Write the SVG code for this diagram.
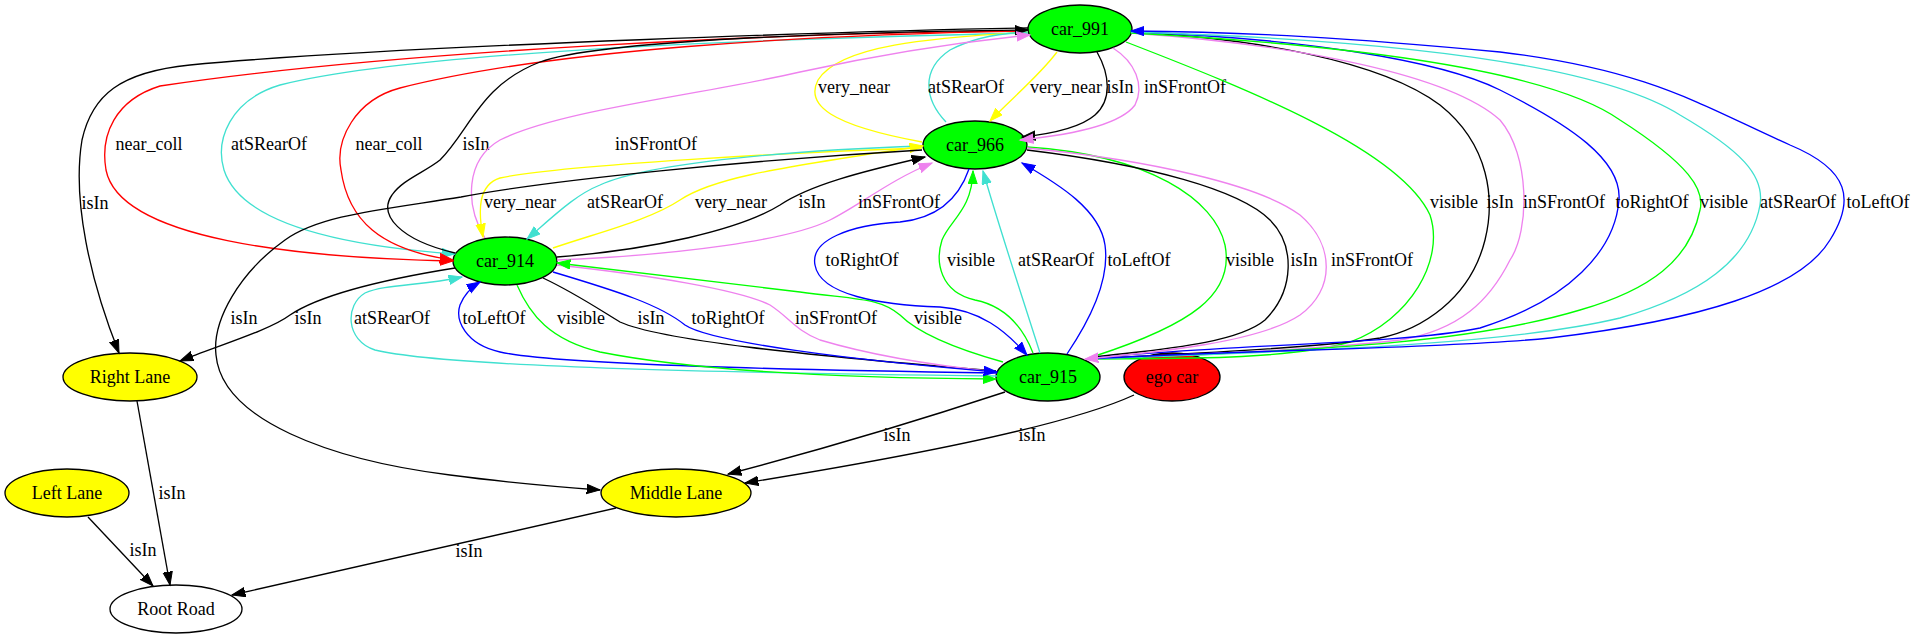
<svg xmlns="http://www.w3.org/2000/svg" width="1918" height="639" viewBox="0 0 1918 639">
<style>
text{font-family:"Liberation Serif","Times New Roman",serif;font-size:18px;fill:#000;text-anchor:middle}
.n{stroke:#000;stroke-width:1.33}
.e{fill:none;stroke-width:1.33}
.k{stroke:#000}.r{stroke:#ff0000}.t{stroke:#40e0d0}.y{stroke:#ffff00}.v{stroke:#ee82ee}.g{stroke:#00ff00}.b{stroke:#0000ff}
</style>
<defs>
<marker id="ak" markerUnits="userSpaceOnUse" markerWidth="16" markerHeight="12" refX="13.3" refY="5" orient="auto"><path d="M0,0.3L13.3,5L0,9.7z" fill="#000" stroke="#000"/></marker>
<marker id="ar" markerUnits="userSpaceOnUse" markerWidth="16" markerHeight="12" refX="13.3" refY="5" orient="auto"><path d="M0,0.3L13.3,5L0,9.7z" fill="#ff0000" stroke="#ff0000"/></marker>
<marker id="at" markerUnits="userSpaceOnUse" markerWidth="16" markerHeight="12" refX="13.3" refY="5" orient="auto"><path d="M0,0.3L13.3,5L0,9.7z" fill="#40e0d0" stroke="#40e0d0"/></marker>
<marker id="ay" markerUnits="userSpaceOnUse" markerWidth="16" markerHeight="12" refX="13.3" refY="5" orient="auto"><path d="M0,0.3L13.3,5L0,9.7z" fill="#ffff00" stroke="#ffff00"/></marker>
<marker id="av" markerUnits="userSpaceOnUse" markerWidth="16" markerHeight="12" refX="13.3" refY="5" orient="auto"><path d="M0,0.3L13.3,5L0,9.7z" fill="#ee82ee" stroke="#ee82ee"/></marker>
<marker id="ag" markerUnits="userSpaceOnUse" markerWidth="16" markerHeight="12" refX="13.3" refY="5" orient="auto"><path d="M0,0.3L13.3,5L0,9.7z" fill="#00ff00" stroke="#00ff00"/></marker>
<marker id="ab" markerUnits="userSpaceOnUse" markerWidth="16" markerHeight="12" refX="13.3" refY="5" orient="auto"><path d="M0,0.3L13.3,5L0,9.7z" fill="#0000ff" stroke="#0000ff"/></marker>
</defs>
<rect width="1918" height="639" fill="#fff"/>
<g id="nodes">
<g id="car_991"><ellipse class="n" cx="1080" cy="29" rx="52" ry="24" fill="#00ff00"/><text x="1080" y="35">car_991</text></g>
<g id="car_966"><ellipse class="n" cx="975" cy="145" rx="52" ry="24" fill="#00ff00"/><text x="975" y="151">car_966</text></g>
<g id="car_914"><ellipse class="n" cx="505" cy="261" rx="52" ry="24" fill="#00ff00"/><text x="505" y="267">car_914</text></g>
<g id="car_915"><ellipse class="n" cx="1048" cy="377" rx="52" ry="24" fill="#00ff00"/><text x="1048" y="383">car_915</text></g>
<g id="ego_car"><ellipse class="n" cx="1172" cy="377" rx="48" ry="24" fill="#ff0000"/><text x="1172" y="383">ego car</text></g>
<g id="right_lane"><ellipse class="n" cx="130" cy="377" rx="67" ry="24" fill="#ffff00"/><text x="130" y="383">Right Lane</text></g>
<g id="left_lane"><ellipse class="n" cx="67" cy="493" rx="62" ry="24" fill="#ffff00"/><text x="67" y="499">Left Lane</text></g>
<g id="middle_lane"><ellipse class="n" cx="676" cy="493" rx="75" ry="24" fill="#ffff00"/><text x="676" y="499">Middle Lane</text></g>
<g id="root_road"><ellipse class="n" cx="176" cy="609" rx="66" ry="24" fill="#fff"/><text x="176" y="615">Root Road</text></g>
</g>
<g id="connectors">
<path class="e k" marker-end="url(#ak)" d="M1028,28C900,30 400,45 190,65C120,72 92,95 82,140C72,200 90,280 119,353"/>
<text x="95" y="209">isIn</text>
<path class="e r" marker-end="url(#ar)" d="M1028,31C800,32 400,50 160,86C115,100 100,135 106,170C120,240 300,258 453,261"/>
<text x="149" y="150">near_coll</text>
<path class="e t" marker-end="url(#at)" d="M1028,33C700,40 400,55 280,85C230,100 215,140 224,170C240,220 330,245 455,254"/>
<text x="269" y="150">atSRearOf</text>
<path class="e r" marker-end="url(#ar)" d="M1028,31C800,35 550,50 400,88C355,100 335,140 341,170C348,220 380,250 453,260"/>
<text x="389" y="150">near_coll</text>
<path class="e y" d="M922,142C830,125 805,105 818,80C840,45 930,38 1028,32"/>
<text x="854" y="93">very_near</text>
<path class="e t" d="M946,122C925,100 920,70 950,50C975,37 1000,33 1028,32"/>
<text x="966" y="93">atSRearOf</text>
<path class="e k" marker-end="url(#ak)" d="M455,253C400,240 378,215 392,195C402,180 425,172 440,160C470,130 480,85 540,62C600,40 850,32 1028,30"/>
<text x="476" y="150">isIn</text>
<path class="e v" marker-end="url(#av)" d="M485,238C465,205 465,160 500,140C560,110 700,95 800,72C900,50 980,40 1030,35"/>
<text x="656" y="150">inSFrontOf</text>
<path class="e y" marker-end="url(#ay)" d="M1057,52C1040,75 1010,100 990,121"/>
<text x="1066" y="93">very_near</text>
<path class="e k" marker-end="url(#ak)" d="M1097,52C1110,75 1112,100 1095,115C1080,128 1050,134 1022,137"/>
<text x="1120" y="93">isIn</text>
<path class="e v" marker-end="url(#av)" d="M1113,48C1135,62 1145,85 1135,105C1120,125 1070,135 1020,140"/>
<text x="1185" y="93">inSFrontOf</text>
<path class="e y" marker-end="url(#ay)" d="M922,148C800,152 560,165 500,178C478,185 478,210 483,237"/>
<text x="520" y="208">very_near</text>
<path class="e t" marker-end="url(#at)" d="M922,146C800,150 650,162 600,185C575,195 555,215 527,239"/>
<text x="625" y="208">atSRearOf</text>
<path class="e y" marker-end="url(#ay)" d="M553,248C600,232 650,220 680,200C710,180 760,170 923,146"/>
<text x="731" y="208">very_near</text>
<path class="e k" marker-end="url(#ak)" d="M557,257C650,250 740,230 780,205C810,185 860,172 925,157"/>
<text x="812" y="208">isIn</text>
<path class="e v" marker-end="url(#av)" d="M557,260C680,255 790,240 830,220C860,205 890,180 932,163"/>
<text x="899" y="208">inSFrontOf</text>
<path class="e k" marker-end="url(#ak)" d="M922,150C750,160 550,180 461,197C380,210 320,215 285,240C240,272 212,320 216,355C222,420 330,460 450,475C510,483 560,487 600,490"/>
<text x="244" y="324">isIn</text>
<path class="e k" marker-end="url(#ak)" d="M455,268C380,280 320,295 290,315C270,330 220,345 180,361"/>
<text x="308" y="324">isIn</text>
<path class="e t" marker-end="url(#at)" d="M997,376C750,373 450,368 375,350C345,340 345,305 365,293C385,284 420,286 462,277"/>
<text x="392" y="324">atSRearOf</text>
<path class="e b" marker-end="url(#ab)" d="M997,373C800,370 560,365 500,352C465,344 455,320 460,305C464,295 470,288 480,282"/>
<text x="494" y="324">toLeftOf</text>
<path class="e g" marker-end="url(#ag)" d="M517,285C530,315 550,340 600,352C700,372 850,378 996,379"/>
<text x="581" y="324">visible</text>
<path class="e k" d="M543,278C575,293 600,310 620,322C660,340 800,355 996,371"/>
<text x="651" y="324">isIn</text>
<path class="e v" d="M557,265C650,275 740,290 770,305C790,318 795,330 820,340C870,355 930,365 996,372"/>
<text x="836" y="324">inSFrontOf</text>
<path class="e b" marker-end="url(#ab)" d="M553,272C620,292 660,305 685,325C710,342 850,360 997,372"/>
<text x="728" y="324">toRightOf</text>
<path class="e g" marker-end="url(#ag)" d="M1003,362C960,350 920,335 900,315C880,298 860,300 800,292C700,280 620,270 557,263"/>
<text x="938" y="324">visible</text>
<path class="e b" marker-end="url(#ab)" d="M969,169C960,195 940,218 900,222C850,225 810,240 815,265C820,295 880,305 940,307C980,310 1005,330 1027,355"/>
<text x="862" y="266">toRightOf</text>
<path class="e g" marker-end="url(#ag)" d="M1033,353C1020,320 1000,305 975,300C940,292 935,262 942,240C950,220 972,210 973,171"/>
<text x="971" y="266">visible</text>
<path class="e t" marker-end="url(#at)" d="M1040,353C1020,290 1000,230 983,171"/>
<text x="1056" y="266">atSRearOf</text>
<path class="e b" marker-end="url(#ab)" d="M1067,354C1090,320 1110,280 1105,245C1100,210 1060,185 1022,163"/>
<text x="1139" y="266">toLeftOf</text>
<path class="e g" d="M1027,147C1150,155 1215,200 1225,245C1235,295 1190,325 1095,356"/>
<text x="1250" y="266">visible</text>
<path class="e k" d="M1027,150C1150,165 1240,190 1270,220C1295,245 1295,290 1265,320C1235,345 1150,350 1095,357"/>
<text x="1304" y="266">isIn</text>
<path class="e g" d="M1126,42C1250,90 1400,150 1430,215C1445,260 1410,320 1350,342C1280,362 1150,358 1087,359"/>
<text x="1454" y="208">visible</text>
<path class="e k" d="M1131,32C1250,38 1380,60 1440,105C1490,145 1495,200 1485,240C1470,300 1420,330 1380,338C1300,350 1150,355 1087,359"/>
<text x="1500" y="208">isIn</text>
<path class="e v" d="M1131,33C1300,45 1450,75 1500,120C1530,155 1530,230 1510,260C1490,300 1460,330 1400,340C1300,352 1150,356 1087,359"/>
<text x="1564" y="208">inSFrontOf</text>
<path class="e b" d="M1131,32C1300,38 1440,60 1500,90C1570,125 1622,160 1619,200C1615,250 1570,300 1480,328C1400,345 1200,345 1087,359"/>
<text x="1652" y="208">toRightOf</text>
<path class="e g" d="M1131,33C1350,45 1550,70 1620,120C1690,165 1705,190 1700,210C1690,260 1650,290 1580,310C1480,340 1350,350 1087,359"/>
<text x="1724" y="208">visible</text>
<path class="e t" d="M1131,32C1400,40 1600,65 1680,115C1740,150 1765,175 1760,205C1750,260 1700,295 1620,318C1520,342 1350,350 1087,359"/>
<text x="1798" y="208">atSRearOf</text>
<path class="e b" marker-end="url(#ab)" d="M1087,359C1250,350 1450,348 1550,338C1700,320 1800,290 1830,240C1855,200 1850,170 1790,145C1700,105 1650,70 1500,52C1350,38 1250,32 1131,31"/>
<text x="1878" y="208">toLeftOf</text>
<path class="e v" marker-end="url(#av)" d="M1027,148C1150,160 1260,185 1300,215C1335,245 1335,290 1300,315C1260,342 1160,352 1085,359"/>
<text x="1372" y="266">inSFrontOf</text>
<path class="e k" marker-end="url(#ak)" d="M1005,392C920,420 820,450 728,474"/>
<text x="897" y="441">isIn</text>
<path class="e k" marker-end="url(#ak)" d="M1134,395C1080,420 950,450 745,483"/>
<text x="1032" y="441">isIn</text>
<path class="e k" marker-end="url(#ak)" d="M137,401L170,585"/>
<text x="172" y="499">isIn</text>
<path class="e k" marker-end="url(#ak)" d="M88,517L153,586"/>
<text x="143" y="556">isIn</text>
<path class="e k" marker-end="url(#ak)" d="M616,508L232,595"/>
<text x="469" y="557">isIn</text>
</g>
</svg>
